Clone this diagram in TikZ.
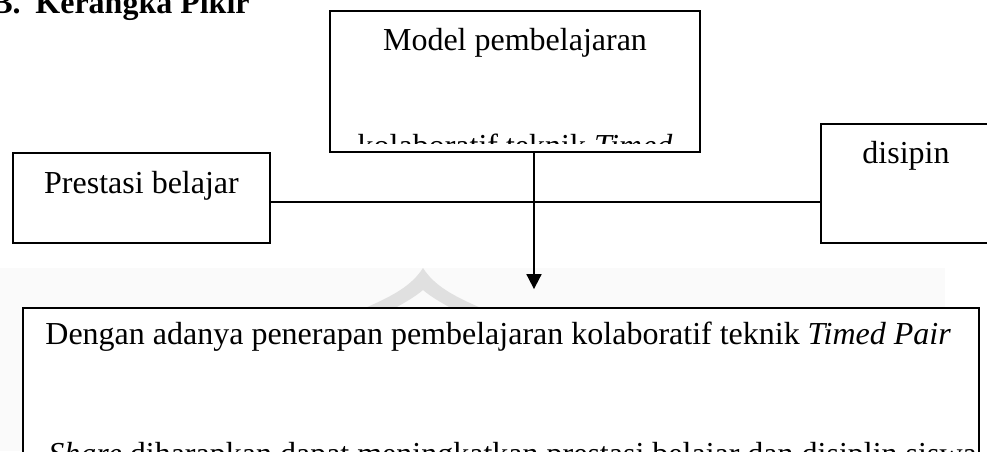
\documentclass[tikz,border=0pt]{standalone}
\usepackage{fontspec}
\setmainfont{Liberation Serif}
\usetikzlibrary{arrows.meta}
\begin{document}
\begin{tikzpicture}[x=0.5pt,y=-0.5pt,
  box/.style={draw,line width=0.9pt,fill=white,rectangle,inner sep=0pt},
  txt/.style={inner sep=0pt,anchor=base,font=\fontsize{16}{19}\selectfont},
  head/.style={inner sep=0pt,anchor=base west,font=\fontsize{16}{19}\selectfont\bfseries},
  link/.style={line width=0.9pt},
  wmark/.style={fill=black!12,draw=none},
  ]
\useasboundingbox (0,0) rectangle (987,451);
\clip (0,0) rectangle (987,451);

% faint background band and roof emblem
\fill[black!2] (0,268) rectangle (945,451);
\fill[wmark] (365,308) .. controls (395,295) and (412,285) .. (423,268)
  .. controls (434,285) and (451,295) .. (481,308) -- (451,308)
  .. controls (440,302) and (430,296) .. (423,290)
  .. controls (416,296) and (406,302) .. (395,308) -- cycle;

% section heading
\node[head] (hnum) at (-9,13) {B.};
\node[head] (htitle) at (35,13) {Kerangka Pikir};

% boxes
\node[box,minimum width=185pt,minimum height=70.5pt] (model) at (515,81.5) {};
\node[box,minimum width=128.5pt,minimum height=45pt] (prestasi) at (141.5,198) {};
\node[box,minimum width=85pt,minimum height=59.5pt] (disiplin) at (906,183.5) {};
\node[box,minimum width=478pt,minimum height=126pt] (hasil) at (501,434) {};

% box texts
\node[txt] (modeltxt) at (515,50) {Model pembelajaran};
\begin{scope}
  \clip (331,0) rectangle (699,143);
  \node[txt] (modeltxt2) at (515,156) {kolaboratif teknik \textit{Timed}};
\end{scope}
\node[txt] (prestasitxt) at (141.5,193) {Prestasi belajar};
\node[txt] (disiplintxt) at (906,163) {disipin};
\node[txt,anchor=base west] (hasiltxt) at (45,344)
  {Dengan adanya penerapan pembelajaran kolaboratif teknik \textit{Timed Pair}};
\node[txt,anchor=base west] (hasiltxt2) at (48,464)
  {\textit{Share} diharapkan dapat meningkatkan prestasi belajar dan disiplin siswa};

% connectors
\coordinate (axis) at (534,0);
\draw[link] (prestasi.east |- 0,202) -- (disiplin.west |- 0,202);
\draw[link,-{Triangle[length=7.5pt,width=7.5pt]},shorten >=9pt]
  (model.south -| axis) -- (hasil.north -| axis);
\end{tikzpicture}
\end{document}
